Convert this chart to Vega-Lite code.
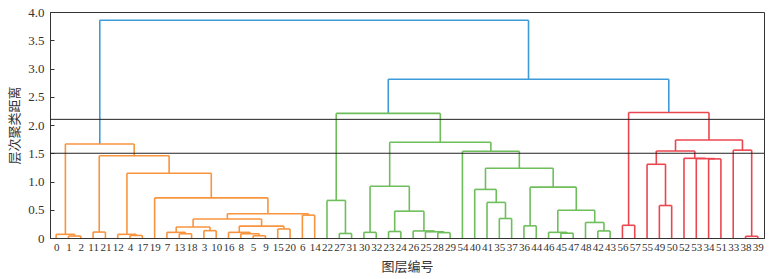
{
  "$schema": "https://vega.github.io/schema/vega-lite/v6.json",
  "width": 714,
  "height": 226,
  "autosize": {"type": "none"},
  "padding": {"left": 50, "top": 12, "right": 12, "bottom": 41},
  "background": "white",
  "config": {
    "view": {"stroke": "#333", "strokeWidth": 1},
    "font": "'Liberation Serif', 'Times New Roman', serif",
    "axis": {
      "labelFont": "'Liberation Serif', 'Times New Roman', serif",
      "labelColor": "#333",
      "labelOverlap": false,
      "labelFlush": false,
      "labelBound": false,
      "grid": false,
      "domainColor": "#333",
      "tickColor": "#333",
      "titleFont": "'Noto Sans CJK SC'",
      "titleFontSize": 13,
      "titleFontWeight": "normal",
      "titleColor": "#333"
    },
    "axisX": {"labelFontSize": 11, "ticks": false, "labelPadding": 3, "titlePadding": 8},
    "axisY": {"labelFontSize": 13, "tickSize": -4, "labelPadding": 10, "titlePadding": 6}
  },
  "datasets": {
    "links": [
      {"id": "A1", "xl": 15, "yl": 0, "xr": 25, "yr": 0, "h": 0.035, "c": "o"},
      {"id": "A2", "xl": 5, "yl": 0, "xr": 20, "yr": 0.035, "h": 0.065, "c": "o"},
      {"id": "A3", "xl": 35, "yl": 0, "xr": 45, "yr": 0, "h": 0.105, "c": "o"},
      {"id": "A4", "xl": 65, "yl": 0, "xr": 75, "yr": 0, "h": 0.045, "c": "o"},
      {"id": "A5", "xl": 55, "yl": 0, "xr": 70, "yr": 0.045, "h": 0.065, "c": "o"},
      {"id": "A6", "xl": 105, "yl": 0, "xr": 115, "yr": 0, "h": 0.075, "c": "o"},
      {"id": "A7", "xl": 95, "yl": 0, "xr": 110, "yr": 0.075, "h": 0.1, "c": "o"},
      {"id": "A8", "xl": 125, "yl": 0, "xr": 135, "yr": 0, "h": 0.13, "c": "o"},
      {"id": "A9", "xl": 102.5, "yl": 0.1, "xr": 130, "yr": 0.13, "h": 0.195, "c": "o"},
      {"id": "A10", "xl": 165, "yl": 0, "xr": 175, "yr": 0, "h": 0.04, "c": "o"},
      {"id": "A11", "xl": 155, "yl": 0, "xr": 170, "yr": 0.04, "h": 0.075, "c": "o"},
      {"id": "A12", "xl": 145, "yl": 0, "xr": 162.5, "yr": 0.075, "h": 0.1, "c": "o"},
      {"id": "A13", "xl": 185, "yl": 0, "xr": 195, "yr": 0, "h": 0.16, "c": "o"},
      {"id": "A14", "xl": 153.75, "yl": 0.1, "xr": 190, "yr": 0.16, "h": 0.21, "c": "o"},
      {"id": "A15", "xl": 116.25, "yl": 0.195, "xr": 171.875, "yr": 0.21, "h": 0.335, "c": "o"},
      {"id": "A16", "xl": 205, "yl": 0, "xr": 215, "yr": 0, "h": 0.405, "c": "o"},
      {"id": "A17", "xl": 144.0625, "yl": 0.335, "xr": 210, "yr": 0.405, "h": 0.43, "c": "o"},
      {"id": "A18", "xl": 85, "yl": 0, "xr": 177.03, "yr": 0.43, "h": 0.71, "c": "o"},
      {"id": "A19", "xl": 62.5, "yl": 0.065, "xr": 131.02, "yr": 0.71, "h": 1.145, "c": "o"},
      {"id": "A20", "xl": 40, "yl": 0.105, "xr": 96.76, "yr": 1.145, "h": 1.455, "c": "o"},
      {"id": "A21", "xl": 12.5, "yl": 0.065, "xr": 68.38, "yr": 1.455, "h": 1.665, "c": "o"},
      {"id": "G1", "xl": 235, "yl": 0, "xr": 245, "yr": 0, "h": 0.08, "c": "g"},
      {"id": "G2", "xl": 225, "yl": 0, "xr": 240, "yr": 0.08, "h": 0.665, "c": "g"},
      {"id": "G3", "xl": 255, "yl": 0, "xr": 265, "yr": 0, "h": 0.1, "c": "g"},
      {"id": "G4", "xl": 275, "yl": 0, "xr": 285, "yr": 0, "h": 0.115, "c": "g"},
      {"id": "G5", "xl": 315, "yl": 0, "xr": 325, "yr": 0, "h": 0.095, "c": "g"},
      {"id": "G6", "xl": 305, "yl": 0, "xr": 320, "yr": 0.095, "h": 0.11, "c": "g"},
      {"id": "G7", "xl": 295, "yl": 0, "xr": 312.5, "yr": 0.11, "h": 0.125, "c": "g"},
      {"id": "G8", "xl": 280, "yl": 0.115, "xr": 303.75, "yr": 0.125, "h": 0.475, "c": "g"},
      {"id": "G9", "xl": 260, "yl": 0.1, "xr": 291.875, "yr": 0.475, "h": 0.915, "c": "g"},
      {"id": "G10", "xl": 365, "yl": 0, "xr": 375, "yr": 0, "h": 0.345, "c": "g"},
      {"id": "G11", "xl": 355, "yl": 0, "xr": 370, "yr": 0.345, "h": 0.63, "c": "g"},
      {"id": "G12", "xl": 345, "yl": 0, "xr": 362.5, "yr": 0.63, "h": 0.86, "c": "g"},
      {"id": "G13", "xl": 385, "yl": 0, "xr": 395, "yr": 0, "h": 0.215, "c": "g"},
      {"id": "G14", "xl": 415, "yl": 0, "xr": 425, "yr": 0, "h": 0.085, "c": "g"},
      {"id": "G15", "xl": 405, "yl": 0, "xr": 420, "yr": 0.085, "h": 0.1, "c": "g"},
      {"id": "G16", "xl": 445, "yl": 0, "xr": 455, "yr": 0, "h": 0.125, "c": "g"},
      {"id": "G17", "xl": 435, "yl": 0, "xr": 450, "yr": 0.125, "h": 0.275, "c": "g"},
      {"id": "G18", "xl": 412.5, "yl": 0.1, "xr": 442.5, "yr": 0.275, "h": 0.49, "c": "g"},
      {"id": "G19", "xl": 390, "yl": 0.215, "xr": 427.5, "yr": 0.49, "h": 0.9, "c": "g"},
      {"id": "G20", "xl": 353.75, "yl": 0.86, "xr": 408.75, "yr": 0.9, "h": 1.235, "c": "g"},
      {"id": "G21", "xl": 335, "yl": 0, "xr": 381.25, "yr": 1.235, "h": 1.535, "c": "g"},
      {"id": "G22", "xl": 275.94, "yl": 0.915, "xr": 358.125, "yr": 1.535, "h": 1.695, "c": "g"},
      {"id": "G23", "xl": 232.5, "yl": 0.665, "xr": 317.03, "yr": 1.695, "h": 2.205, "c": "g"},
      {"id": "R1", "xl": 465, "yl": 0, "xr": 475, "yr": 0, "h": 0.225, "c": "r"},
      {"id": "R2", "xl": 495, "yl": 0, "xr": 505, "yr": 0, "h": 0.575, "c": "r"},
      {"id": "R3", "xl": 485, "yl": 0, "xr": 500, "yr": 0.575, "h": 1.305, "c": "r"},
      {"id": "R4", "xl": 535, "yl": 0, "xr": 545, "yr": 0, "h": 1.4, "c": "r"},
      {"id": "R5", "xl": 525, "yl": 0, "xr": 540, "yr": 1.4, "h": 1.405, "c": "r"},
      {"id": "R6", "xl": 515, "yl": 0, "xr": 532.5, "yr": 1.405, "h": 1.41, "c": "r"},
      {"id": "R7", "xl": 492.5, "yl": 1.305, "xr": 523.75, "yr": 1.41, "h": 1.54, "c": "r"},
      {"id": "R8", "xl": 565, "yl": 0, "xr": 575, "yr": 0, "h": 0.03, "c": "r"},
      {"id": "R9", "xl": 555, "yl": 0, "xr": 570, "yr": 0.03, "h": 1.555, "c": "r"},
      {"id": "R10", "xl": 508.125, "yl": 1.54, "xr": 562.5, "yr": 1.555, "h": 1.735, "c": "r"},
      {"id": "R11", "xl": 470, "yl": 0.225, "xr": 535.31, "yr": 1.735, "h": 2.22, "c": "r"},
      {"id": "B1", "xl": 274.77, "yl": 2.205, "xr": 502.66, "yr": 2.22, "h": 2.81, "c": "b"},
      {"id": "B2", "xl": 40.44, "yl": 1.665, "xr": 388.71, "yr": 2.81, "h": 3.855, "c": "b"}
    ],
    "cuts": [{"t": 2.1}, {"t": 1.5}]
  },
  "data": {"name": "links"},
  "encoding": {
    "x": {
      "field": "xl", "type": "quantitative",
      "scale": {"domain": [0, 580], "nice": false, "zero": false},
      "axis": {
        "title": "图层编号",
        "values": [5, 15, 25, 35, 45, 55, 65, 75, 85, 95, 105, 115, 125, 135, 145, 155, 165, 175, 185, 195, 205, 215, 225, 235, 245, 255, 265, 275, 285, 295, 305, 315, 325, 335, 345, 355, 365, 375, 385, 395, 405, 415, 425, 435, 445, 455, 465, 475, 485, 495, 505, 515, 525, 535, 545, 555, 565, 575],
        "labelExpr": "['0','1','2','11','21','12','4','17','19','7','13','18','3','10','16','8','5','9','15','20','6','14','22','27','31','30','32','23','24','26','25','28','29','54','40','41','35','37','36','44','46','45','47','48','42','43','56','57','55','49','50','52','53','34','51','33','38','39'][round((datum.value - 5) / 10)]"
      }
    },
    "y": {
      "field": "yl", "type": "quantitative",
      "scale": {"domain": [0, 4], "nice": false},
      "axis": {
        "title": "层次聚类距离",
        "values": [0, 0.5, 1, 1.5, 2, 2.5, 3, 3.5, 4],
        "labelExpr": "datum.value == 0 ? '0' : format(datum.value, '.1f')"
      }
    },
    "color": {
      "field": "c", "type": "nominal", "legend": null,
      "scale": {"domain": ["o", "g", "r", "b"], "range": ["#f8943e", "#6fbe5c", "#ea4650", "#3d9bd9"]}
    }
  },
  "layer": [
    {
      "mark": {"type": "rule", "strokeWidth": 1.6},
      "encoding": {
        "y2": {"field": "h"}
      }
    },
    {
      "mark": {"type": "rule", "strokeWidth": 1.6},
      "encoding": {
        "x": {"field": "xr", "type": "quantitative"},
        "y": {"field": "yr", "type": "quantitative"},
        "y2": {"field": "h"}
      }
    },
    {
      "mark": {"type": "rule", "strokeWidth": 1.6},
      "encoding": {
        "x2": {"field": "xr"},
        "y": {"field": "h", "type": "quantitative"}
      }
    },
    {
      "data": {"name": "cuts"},
      "mark": {"type": "rule", "color": "#222", "strokeWidth": 1},
      "encoding": {
        "x": null,
        "color": null,
        "y": {"field": "t", "type": "quantitative"}
      }
    }
  ]
}
